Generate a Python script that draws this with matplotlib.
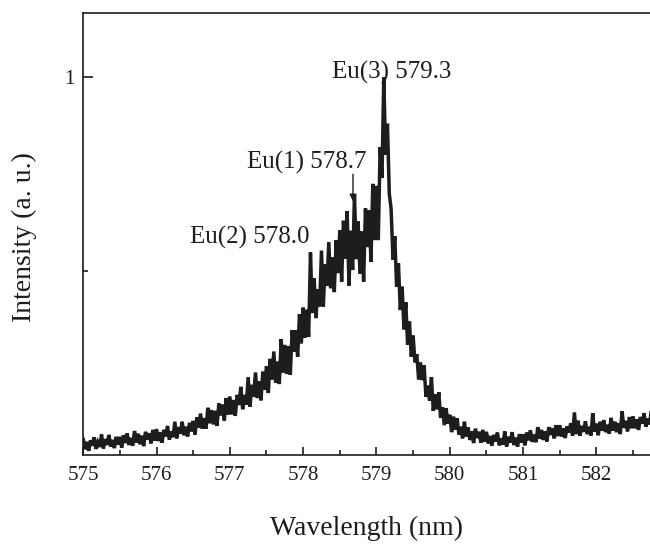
import numpy as np
import matplotlib
matplotlib.use("Agg")
import matplotlib.pyplot as plt

# ---- data -------------------------------------------------------------
wl_start = 575.0      # nm
wl_step = 0.025       # nm
intensity = [
    # 575.00 - 575.475
    .067, .041, .060, .037, .064, .050, .072, .042, .059, .047,
    .079, .043, .067, .052, .078, .048, .065, .044, .073, .053,
    # 575.50 - 575.975
    .073, .045, .077, .057, .082, .052, .070, .050, .088, .058,
    .081, .054, .076, .049, .086, .066, .082, .056, .091, .063,
    # 576.00 - 576.475
    .093, .062, .085, .058, .091, .074, .101, .066, .087, .072,
    .112, .069, .098, .081, .112, .077, .099, .074, .109, .087,
    # 576.50 - 576.975
    .114, .079, .123, .097, .133, .094, .121, .094, .148, .108,
    .142, .105, .140, .101, .159, .128, .156, .115, .173, .130,
    # 577.00 - 577.475
    .177, .131, .168, .127, .181, .155, .202, .144, .181, .156,
    .227, .151, .207, .177, .239, .173, .216, .167, .241, .195,
    # 577.50 - 577.975
    .255, .186, .274, .221, .293, .213, .267, .209, .325, .239,
    .310, .235, .307, .233, .348, .292, .348, .279, .389, .314,
    # 578.00 - 578.475
    .406, .328, .401, .331, .548, .392, .482, .379, .453, .409,
    .553, .409, .517, .462, .575, .456, .535, .446, .580, .495,
    # 578.50 - 578.975
    .605, .473, .630, .532, .655, .463, .604, .503, .698, .531,
    .628, .494, .602, .473, .662, .562, .657, .524, .725, .580,
    # 579.00 - 579.475
    .720, .580, .820, .740, 1.000, .800, .880, .700, .660, .530,
    .590, .460, .520, .400, .460, .350, .420, .310, .370, .280,
    # 579.50 - 579.975
    .334, .265, .286, .221, .265, .219, .257, .176, .205, .166,
    .227, .140, .183, .144, .188, .122, .149, .103, .147, .107,
    # 580.00 - 580.475
    .130, .085, .125, .092, .121, .079, .099, .069, .112, .074,
    .097, .065, .087, .057, .094, .070, .086, .058, .091, .061,
    # 580.50 - 580.975
    .086, .056, .075, .050, .078, .061, .084, .051, .069, .053,
    .087, .048, .073, .058, .085, .052, .071, .048, .080, .058,
    # 581.00 - 581.475
    .079, .051, .084, .064, .090, .060, .079, .059, .098, .068,
    .091, .065, .087, .061, .098, .078, .095, .069, .103, .075,
    # 581.50 - 581.975
    .103, .074, .095, .070, .100, .084, .108, .076, .136, .080,
    .115, .076, .101, .086, .113, .080, .099, .076, .134, .086,
    # 582.00 - 582.475
    .107, .077, .112, .089, .116, .085, .104, .081, .122, .089,
    .112, .085, .108, .080, .139, .096, .114, .087, .124, .095,
    # 582.50 - 582.75
    .126, .095, .118, .091, .124, .107, .134, .099, .120, .105,
    .144,
]
wavelength = wl_start + wl_step * np.arange(len(intensity))

x_ticks = [575, 576, 577, 578, 579, 580, 581, 582]
x_minor = [575.5, 576.5, 577.5, 578.5, 579.5, 580.5, 581.5, 582.5]
y_ticks = [1]
y_tick_labels = ["1"]
y_minor = [0.5]

annotations = [
    ("Eu(3) 579.3", 578.40, 1.013),
    ("Eu(1) 578.7", 577.23, 0.781),
    ("Eu(2) 578.0", 576.46, 0.588),
]
arrow_x = 578.68
arrow_from = 0.750
arrow_to = 0.680

# ---- figure -----------------------------------------------------------
plt.rcParams["font.family"] = ["Liberation Serif", "DejaVu Serif"]
fig = plt.figure(figsize=(6.5, 5.45), dpi=100)
ax = fig.add_axes([0.128, 0.165, 0.872, 0.8116])

ink = "#1e1c1c"
ax.plot(wavelength, intensity, color=ink, lw=2.5, solid_joinstyle="miter")

ax.set_xlim(575, 582.731)
ax.set_ylim(0.026, 1.166)

ax.set_xticks(x_ticks)
ax.set_xticklabels([str(t) for t in x_ticks])
ax.set_xticks(x_minor, minor=True)
ax.set_yticks(y_ticks)
ax.set_yticklabels(y_tick_labels)
ax.set_yticks(y_minor, minor=True)

ax.tick_params(axis="both", which="major", direction="in", length=6,
               width=1.2, labelsize=15, pad=8, colors=ink)
ax.tick_params(axis="both", which="minor", direction="in", length=3.5,
               width=1.2, colors=ink)
ax.tick_params(axis="y", which="major", length=7, pad=6)
ax.tick_params(top=False, right=False, which="both")

for s in ["left", "bottom", "top"]:
    ax.spines[s].set_linewidth(1.2)
    ax.spines[s].set_color(ink)
ax.spines["right"].set_visible(False)

ax.set_xlabel("Wavelength (nm)", fontsize=20, color=ink)
ax.xaxis.label.set_va("center")
ax.xaxis.set_label_coords(0.5, -0.165)
ax.set_ylabel("Intensity (a. u.)", fontsize=20, color=ink)
ax.yaxis.label.set_va("center")
ax.yaxis.set_label_coords(-0.103, 0.493)

for txt, xx, yy in annotations:
    ax.text(xx, yy, txt, fontsize=18, ha="left", va="center", color=ink)

ax.annotate("", xy=(arrow_x, arrow_to), xytext=(arrow_x, arrow_from),
            arrowprops=dict(arrowstyle="-|>", color=ink, lw=1.0,
                            mutation_scale=10, shrinkA=0, shrinkB=0))

fig.savefig("out.png", dpi=100)
